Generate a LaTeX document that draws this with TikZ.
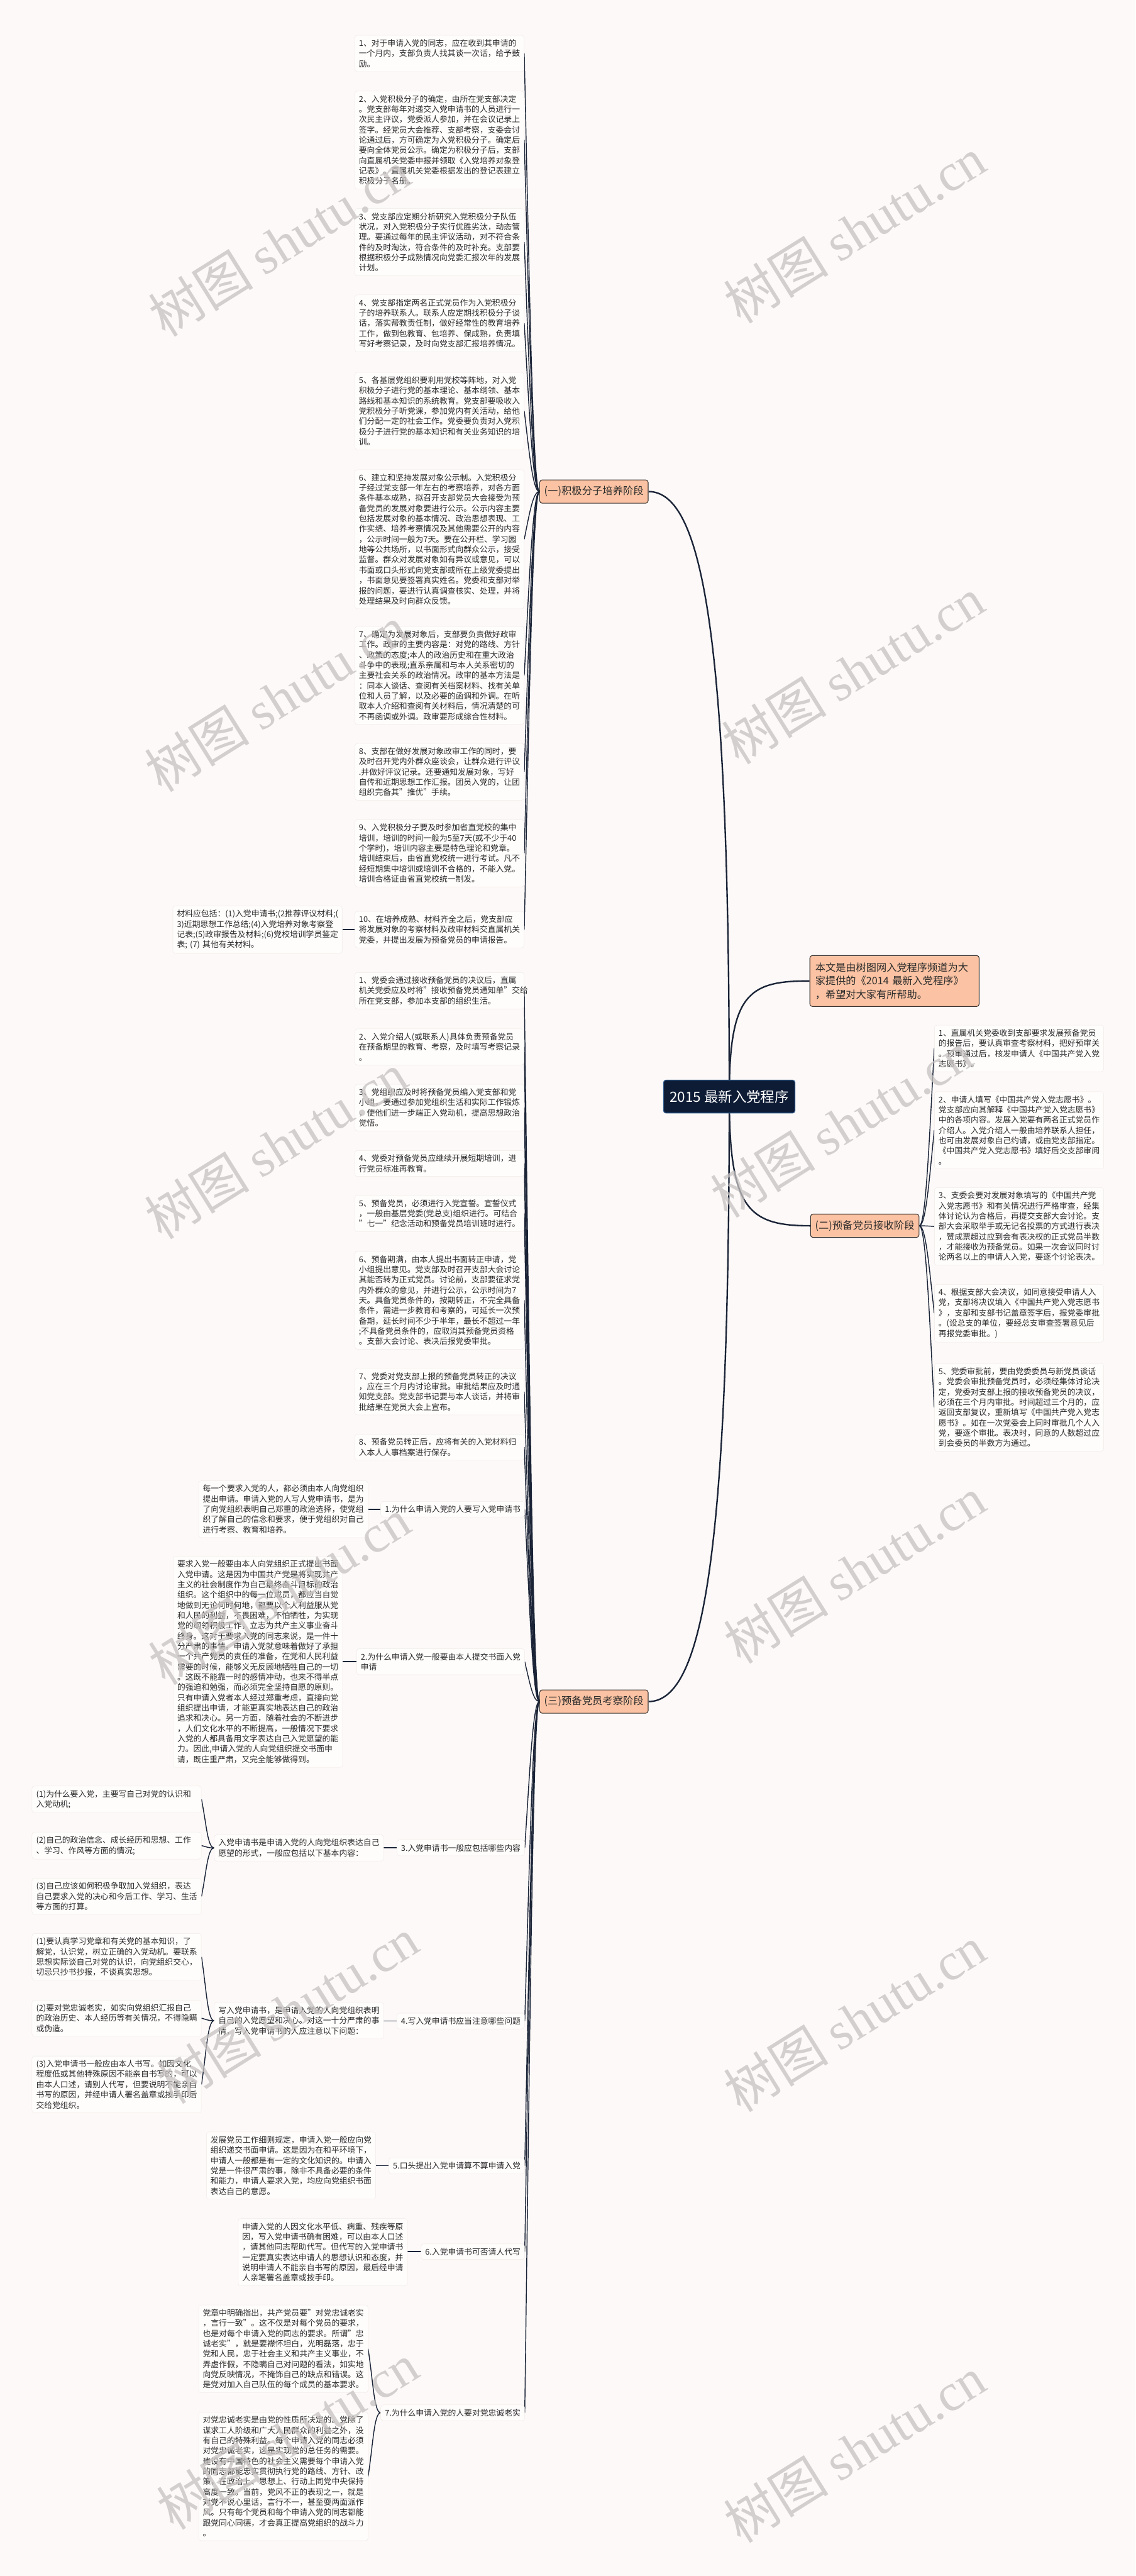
\documentclass[tikz,border=0pt]{standalone}
\usepackage{fontspec}
\setmainfont{Noto Sans CJK SC}
\newfontfamily\wmlat{Liberation Serif}
\usetikzlibrary{calc}
\definecolor{bgc}{HTML}{FCF9F8}
\definecolor{leaffill}{HTML}{FFFDFC}
\definecolor{leafedge}{HTML}{F0EBE9}
\definecolor{peach}{HTML}{FBC3A3}
\definecolor{peachedge}{HTML}{3A3432}
\definecolor{navy}{HTML}{0D1B35}
\definecolor{navyedge}{HTML}{2E5A8C}
\definecolor{linec}{HTML}{1B2437}
\definecolor{txt}{HTML}{2B2B2B}
\definecolor{wm}{HTML}{C6C2C1}
\newcommand\fleaf{\fontsize{9.8pt}{12.5pt}\selectfont}
\newcommand\fbr{\fontsize{12.5pt}{15pt}\selectfont}
\newcommand\fintro{\fontsize{12.4pt}{16.6pt}\selectfont}
\newcommand\froot{\fontsize{17.2pt}{20pt}\selectfont}
\newcommand\fwm{\fontsize{64pt}{70pt}\selectfont}
\pgfdeclarelayer{bg}
\pgfdeclarelayer{lines}
\pgfsetlayers{bg,lines,main}
\tikzset{
  leaf/.style={draw=leafedge, fill=leaffill, rounded corners=3pt, line width=0.4pt,
    inner xsep=5pt, inner ysep=5pt, text width=196pt, align=left, font=\fleaf, text=txt},
  lab/.style={draw=leafedge, fill=leaffill, rounded corners=3pt, line width=0.4pt,
    inner xsep=5pt, inner ysep=5pt, align=left, font=\fleaf, text=txt},
  brn/.style={draw=peachedge, fill=peach, rounded corners=3pt, line width=0.8pt,
    minimum width=132pt, minimum height=28.4pt, inner sep=0pt, font=\fbr, text=txt},
  rootn/.style={draw=navyedge, fill=navy, rounded corners=3pt, line width=1pt,
    minimum width=160pt, minimum height=40pt, inner sep=0pt, font=\froot, text=white},
  intron/.style={draw=peachedge, fill=peach, rounded corners=3pt, line width=0.8pt,
    minimum width=206pt, minimum height=62pt, inner xsep=6.6pt, inner ysep=0pt,
    text width=192.8pt, align=left, font=\fintro, text=txt},
  mk/.style={draw=linec, line width=1.8pt},
  lk/.style={draw=linec, line width=1.1pt},
  sk/.style={draw=linec, line width=1.4pt},
  wmk/.style={text=wm, opacity=0.75, rotate=32, font=\fwm}
}
\newcommand\lconn[2]{\draw[lk] let \p1=(#1.west), \p2=(#2.east) in (\p1) .. controls (\x1-8pt,\y1) and ({\x2+6pt},{\y2+0.5*(\y1-\y2)}) .. (\p2);}
\newcommand\rconn[2]{\draw[lk] let \p1=(#1.east), \p2=(#2.west) in (\p1) .. controls (\x1+8pt,\y1) and ({\x2-6pt},{\y2+0.5*(\y1-\y2)}) .. (\p2);}
\newcommand\hconn[2]{\draw[sk] (#1.west) -- (#1.west -| #2.east);}
\newcommand\wmark[1]{\node[wmk] at #1 {树图~{\wmlat shutu.cn}};}
\begin{document}
\begin{tikzpicture}[x=2pt,y=-2pt]
\begin{pgfonlayer}{bg}
\fill[bgc] (0,0) rectangle (691,1566.9);
\end{pgfonlayer}
\useasboundingbox (0,0) rectangle (691,1566.9);

% root and branches
\node[rootn] (root) at (443.75,667) {2015~最新入党程序};
\node[intron, anchor=north west] (intro) at (492.6,581) {本文是由树图网入党程序频道为大\\家提供的《2014~最新入党程序》\\，希望对大家有所帮助。};
\node[brn] (b1) at (361.4,299) {(一)积极分子培养阶段};
\node[brn] (b2) at (526.2,745.6) {(二)预备党员接收阶段};
\node[brn] (b3) at (361.4,1035) {(三)预备党员考察阶段};

% (一) items
\node[leaf, anchor=east] (a1) at (319,32.5) {1、对于申请入党的同志，应在收到其申请的\\一个月内，支部负责人找其谈一次话，给予鼓\\励。};
\node[leaf, anchor=east] (a2) at (319,85.2) {2、入党积极分子的确定，由所在党支部决定\\。党支部每年对递交入党申请书的人员进行一\\次民主评议，党委派人参加，并在会议记录上\\签字。经党员大会推荐、支部考察，支委会讨\\论通过后，方可确定为入党积极分子。确定后\\要向全体党员公示。确定为积极分子后，支部\\向直属机关党委申报并领取《入党培养对象登\\记表》。直属机关党委根据发出的登记表建立\\积极分子名册。};
\node[leaf, anchor=east] (a3) at (319,147.3) {3、党支部应定期分析研究入党积极分子队伍\\状况，对入党积极分子实行优胜劣汰，动态管\\理。要通过每年的民主评议活动，对不符合条\\件的及时淘汰，符合条件的及时补充。支部要\\根据积极分子成熟情况向党委汇报次年的发展\\计划。};
\node[leaf, anchor=east] (a4) at (319,196.7) {4、党支部指定两名正式党员作为入党积极分\\子的培养联系人。联系人应定期找积极分子谈\\话，落实帮教责任制，做好经常性的教育培养\\工作，做到包教育、包培养、保成熟，负责填\\写好考察记录，及时向党支部汇报培养情况。};
\node[leaf, anchor=east] (a5) at (319,250) {5、各基层党组织要利用党校等阵地，对入党\\积极分子进行党的基本理论、基本纲领、基本\\路线和基本知识的系统教育。党支部要吸收入\\党积极分子听党课，参加党内有关活动，给他\\们分配一定的社会工作。党委要负责对入党积\\极分子进行党的基本知识和有关业务知识的培\\训。};
\node[leaf, anchor=east] (a6) at (319,328) {6、建立和坚持发展对象公示制。入党积极分\\子经过党支部一年左右的考察培养，对各方面\\条件基本成熟，拟召开支部党员大会接受为预\\备党员的发展对象要进行公示。公示内容主要\\包括发展对象的基本情况、政治思想表现、工\\作实绩、培养考察情况及其他需要公开的内容\\，公示时间一般为7天。要在公开栏、学习园\\地等公共场所，以书面形式向群众公示，接受\\监督。群众对发展对象如有异议或意见，可以\\书面或口头形式向党支部或所在上级党委提出\\，书面意见要签署真实姓名。党委和支部对举\\报的问题，要进行认真调查核实、处理，并将\\处理结果及时向群众反馈。};
\node[leaf, anchor=east] (a7) at (319,410.8) {7、确定为发展对象后，支部要负责做好政审\\工作。政审的主要内容是：对党的路线、方针\\、政策的态度;本人的政治历史和在重大政治\\斗争中的表现;直系亲属和与本人关系密切的\\主要社会关系的政治情况。政审的基本方法是\\：同本人谈话、查阅有关档案材料、找有关单\\位和人员了解，以及必要的函调和外调。在听\\取本人介绍和查阅有关材料后，情况清楚的可\\不再函调或外调。政审要形成综合性材料。};
\node[leaf, anchor=east] (a8) at (319,469.5) {8、支部在做好发展对象政审工作的同时，要\\及时召开党内外群众座谈会，让群众进行评议\\.并做好评议记录。还要通知发展对象，写好\\自传和近期思想工作汇报。团员入党的，让团\\组织完备其"推优"手续。};
\node[leaf, anchor=east] (a9) at (319,519) {9、入党积极分子要及时参加省直党校的集中\\培训，培训的时间一般为5至7天(或不少于40\\个学时)，培训内容主要是特色理论和党章。\\培训结束后，由省直党校统一进行考试。凡不\\经短期集中培训或培训不合格的，不能入党。\\培训合格证由省直党校统一制发。};
\node[leaf, anchor=east] (a10) at (319,565.4) {10、在培养成熟、材料齐全之后，党支部应\\将发展对象的考察材料及政审材料交直属机关\\党委，并提出发展为预备党员的申请报告。};
\node[leaf, anchor=east] (note) at (208.3,565.4) {材料应包括：(1)入党申请书;(2推荐评议材料;(\\3)近期思想工作总结;(4)入党培养对象考察登\\记表;(5)政审报告及材料;(6)党校培训学员鉴定\\表;~(7)~其他有关材料。};

% (二) items
\node[leaf, anchor=west] (c1) at (568.5,637.7) {1、直属机关党委收到支部要求发展预备党员\\的报告后，要认真审查考察材料，把好预审关\\。预审通过后，核发申请人《中国共产党入党\\志愿书》。};
\node[leaf, anchor=west] (c2) at (568.5,687.5) {2、申请人填写《中国共产党入党志愿书》。\\党支部应向其解释《中国共产党入党志愿书》\\中的各项内容。发展入党要有两名正式党员作\\介绍人。入党介绍人一般由培养联系人担任，\\也可由发展对象自己约请，或由党支部指定。\\《中国共产党入党志愿书》填好后交支部审阅\\。};
\node[leaf, anchor=west] (c3) at (568.5,746) {3、支委会要对发展对象填写的《中国共产党\\入党志愿书》和有关情况进行严格审查，经集\\体讨论认为合格后，再提交支部大会讨论。支\\部大会采取举手或无记名投票的方式进行表决\\，赞成票超过应到会有表决权的正式党员半数\\，才能接收为预备党员。如果一次会议同时讨\\论两名以上的申请人入党，要逐个讨论表决。};
\node[leaf, anchor=west] (c4) at (568.5,798.8) {4、根据支部大会决议，如同意接受申请人入\\党，支部将决议填入《中国共产党入党志愿书\\》，支部和支部书记盖章签字后，报党委审批\\。(设总支的单位，要经总支审查签署意见后\\再报党委审批。)};
\node[leaf, anchor=west] (c5) at (568.5,856) {5、党委审批前，要由党委委员与新党员谈话\\。党委会审批预备党员时，必须经集体讨论决\\定，党委对支部上报的接收预备党员的决议，\\必须在三个月内审批。时间超过三个月的，应\\返回支部复议，重新填写《中国共产党入党志\\愿书》。如在一次党委会上同时审批几个人入\\党，要逐个审批。表决时，同意的人数超过应\\到会委员的半数方为通过。};

% (三) upper items
\node[leaf, anchor=east] (d1) at (319,602.6) {1、党委会通过接收预备党员的决议后，直属\\机关党委应及时将"接收预备党员通知单"交给\\所在党支部，参加本支部的组织生活。};
\node[leaf, anchor=east] (d2) at (319,636.8) {2、入党介绍人(或联系人)具体负责预备党员\\在预备期里的教育、考察，及时填写考察记录\\。};
\node[leaf, anchor=east] (d3) at (319,673.7) {3、党组织应及时将预备党员编入党支部和党\\小组，要通过参加党组织生活和实际工作锻炼\\，使他们进一步端正入党动机，提高思想政治\\觉悟。};
\node[leaf, anchor=east] (d4) at (319,707.7) {4、党委对预备党员应继续开展短期培训，进\\行党员标准再教育。};
\node[leaf, anchor=east] (d5) at (319,738.1) {5、预备党员，必须进行入党宣誓。宣誓仪式\\，一般由基层党委(党总支)组织进行。可结合\\"七一"纪念活动和预备党员培训班时进行。};
\node[leaf, anchor=east] (d6) at (319,790.9) {6、预备期满，由本人提出书面转正申请，党\\小组提出意见。党支部及时召开支部大会讨论\\其能否转为正式党员。讨论前，支部要征求党\\内外群众的意见，并进行公示，公示时间为7\\天。具备党员条件的，按期转正，不完全具备\\条件，需进一步教育和考察的，可延长一次预\\备期，延长时间不少于半年，最长不超过一年\\;不具备党员条件的，应取消其预备党员资格\\。支部大会讨论、表决后报党委审批。};
\node[leaf, anchor=east] (d7) at (319,846.5) {7、党委对党支部上报的预备党员转正的决议\\，应在三个月内讨论审批。审批结果应及时通\\知党支部。党支部书记要与本人谈话，并将审\\批结果在党员大会上宣布。};
\node[leaf, anchor=east] (d8) at (319,880.3) {8、预备党员转正后，应将有关的入党材料归\\入本人人事档案进行保存。};

% (三) Q&A
\node[lab, anchor=east] (q1) at (319.3,918) {1.为什么申请入党的人要写入党申请书};
\node[leaf, anchor=east] (e1) at (224,918) {每一个要求入党的人，都必须由本人向党组织\\提出申请。申请入党的人写人党申请书，是为\\了向党组织表明自己郑重的政治选择，使党组\\织了解自己的信念和要求，便于党组织对自己\\进行考察、教育和培养。};
\node[lab, anchor=east] (q2) at (319.3,1010.8) {2.为什么申请入党一般要由本人提交书面入党\\申请};
\node[leaf, anchor=east] (e2) at (208.5,1010.8) {要求入党一般要由本人向党组织正式提出书面\\入党申请。这是因为中国共产党是将实现共产\\主义的社会制度作为自己最终奋斗目标的政治\\组织。这个组织中的每一位成员，都应当自觉\\地做到无论何时何地，都要以个人利益服从党\\和人民的利益，不畏困难，不怕牺牲，为实现\\党的纲领积极工作，立志为共产主义事业奋斗\\终身。这对于要求入党的同志来说，是一件十\\分严肃的事情。申请入党就意味着做好了承担\\一个共产党员的责任的准备，在党和人民利益\\需要的时候，能够义无反顾地牺牲自己的一切\\。这既不能靠一时的感情冲动，也来不得半点\\的强迫和勉强，而必须完全坚持自愿的原则。\\只有申请入党者本人经过郑重考虑，直接向党\\组织提出申请，才能更真实地表达自己的政治\\追求和决心。另一方面，随着社会的不断进步\\，人们文化水平的不断提高，一般情况下要求\\入党的人都具备用文字表达自己入党愿望的能\\力。因此,申请入党的人向党组织提交书面申\\请，既庄重严肃，又完全能够做得到。};
\node[lab, anchor=east] (q3) at (319.3,1124) {3.入党申请书一般应包括哪些内容};
\node[leaf, anchor=east] (m3) at (233.5,1124) {入党申请书是申请入党的人向党组织表达自己\\愿望的形式，一般应包括以下基本内容：};
\node[leaf, anchor=east] (s31) at (122.6,1094.5) {(1)为什么要入党，主要写自己对党的认识和\\入党动机;};
\node[leaf, anchor=east] (s32) at (122.6,1122.6) {(2)自己的政治信念、成长经历和思想、工作\\、学习、作风等方面的情况;};
\node[leaf, anchor=east] (s33) at (122.6,1153.5) {(3)自己应该如何积极争取加入党组织，表达\\自己要求入党的决心和今后工作、学习、生活\\等方面的打算。};
\node[lab, anchor=east] (q4) at (319.3,1229.3) {4.写入党申请书应当注意哪些问题};
\node[leaf, anchor=east] (m4) at (233.5,1229.1) {写入党申请书，是申请入党的人向党组织表明\\自己的入党愿望和决心。对这一十分严肃的事\\情，写入党申请书的人应注意以下问题：};
\node[leaf, anchor=east] (s41) at (122.6,1190.3) {(1)要认真学习党章和有关党的基本知识，了\\解党，认识党，树立正确的入党动机。要联系\\思想实际谈自己对党的认识，向党组织交心，\\切忌只抄书抄报，不谈真实思想。};
\node[leaf, anchor=east] (s42) at (122.6,1227.6) {(2)要对党忠诚老实，如实向党组织汇报自己\\的政治历史、本人经历等有关情况，不得隐瞒\\或伪造。};
\node[leaf, anchor=east] (s43) at (122.6,1267.9) {(3)入党申请书一般应由本人书写。如因文化\\程度低或其他特殊原因不能亲自书写的，可以\\由本人口述，请别人代写，但要说明不能亲自\\书写的原因，并经申请人署名盖章或按手印后\\交给党组织。};
\node[lab, anchor=east] (q5) at (319.3,1317.3) {5.口头提出入党申请算不算申请入党};
\node[leaf, anchor=east] (e5) at (228.7,1317.2) {发展党员工作细则规定，申请入党一般应向党\\组织递交书面申请。这是因为在和平环境下，\\申请人一般都是有一定的文化知识的。申请入\\党是一件很严肃的事，除非不具备必要的条件\\和能力，申请人要求入党，均应向党组织书面\\表达自己的意愿。};
\node[lab, anchor=east] (q6) at (319.3,1369.6) {6.入党申请书可否请人代写};
\node[leaf, anchor=east] (e6) at (248,1369.9) {申请入党的人因文化水平低、病重、残疾等原\\因，写入党申请书确有困难，可以由本人口述\\，请其他同志帮助代写。但代写的入党申请书\\一定要真实表达申请人的思想认识和态度，并\\说明申请人不能亲自书写的原因，最后经申请\\人亲笔署名盖章或按手印。};
\node[lab, anchor=east] (q7) at (319.3,1467.6) {7.为什么申请入党的人要对党忠诚老实};
\node[leaf, anchor=east] (e7a) at (224,1428.7) {党章中明确指出，共产党员要"对党忠诚老实\\，言行一致"。这不仅是对每个党员的要求，\\也是对每个申请入党的同志的要求。所谓"忠\\诚老实"，就是要襟怀坦白，光明磊落，忠于\\党和人民，忠于社会主义和共产主义事业，不\\弄虚作假，不隐瞒自己对问题的看法，如实地\\向党反映情况，不掩饰自己的缺点和错误。这\\是党对加入自己队伍的每个成员的基本要求。};
\node[leaf, anchor=east] (e7b) at (224,1506.3) {对党忠诚老实是由党的性质所决定的。党除了\\谋求工人阶级和广大人民群众的利益之外，没\\有自己的特殊利益。每个申请入党的同志必须\\对党忠诚老实，这是实现党的总任务的需要。\\建设有中国特色的社会主义需要每个申请入党\\的同志都能忠实贯彻执行党的路线、方针、政\\策，在政治上、思想上、行动上同党中央保持\\高度一致。当前，党风不正的表现之一，就是\\对党不说心里话，言行不一，甚至耍两面派作\\风。只有每个党员和每个申请入党的同志都能\\跟党同心同德，才会真正提高党组织的战斗力\\。};

\begin{pgfonlayer}{lines}
\draw[mk] (root.center) .. controls (443.75,390) and (428,299) .. (b1.east);
\draw[mk] (root.center) .. controls (443.75,944) and (428,1035) .. (b3.east);
\draw[mk] (root.center) .. controls (443.75,605) and (455,596.5) .. (intro.west);
\draw[mk] (root.center) .. controls (443.75,735) and (455,745.6) .. (b2.west);
\foreach \k in {a1,a2,a3,a4,a5,a6,a7,a8,a9,a10} {\lconn{b1}{\k}}
\foreach \k in {c1,c2,c3,c4,c5} {\rconn{b2}{\k}}
\foreach \k in {d1,d2,d3,d4,d5,d6,d7,d8,q1,q2,q3,q4,q5,q6,q7} {\lconn{b3}{\k}}
\foreach \k in {s31,s32,s33} {\lconn{m3}{\k}}
\foreach \k in {s41,s42,s43} {\lconn{m4}{\k}}
\lconn{q7}{e7a}
\lconn{q7}{e7b}
\hconn{a10}{note}
\hconn{q1}{e1}
\hconn{q2}{e2}
\hconn{q3}{m3}
\hconn{q4}{m4}
\hconn{q5}{e5}
\hconn{q6}{e6}
\end{pgfonlayer}

% watermarks
\wmark{(170,148)}
\wmark{(520,140)}
\wmark{(168,425)}
\wmark{(519,408)}
\wmark{(168,697)}
\wmark{(512,684)}
\wmark{(170,968)}
\wmark{(520,955)}
\wmark{(175,1223)}
\wmark{(520,1228)}
\wmark{(175,1482)}
\wmark{(520,1490)}
\end{tikzpicture}
\end{document}
